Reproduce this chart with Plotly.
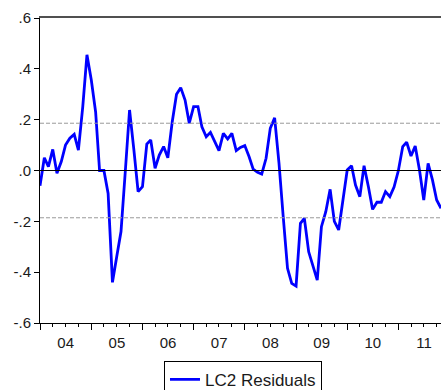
import pandas as pd
import plotly.graph_objects as go

# Monthly residuals of the LC2 equation, 2004M01 - 2011M11
months = pd.date_range("2004-01-01", periods=95, freq="MS")
residuals = [
    -0.060, 0.050, 0.015, 0.083, -0.011, 0.035, 0.100, 0.127, 0.142, 0.080,
    0.250, 0.455, 0.356, 0.230, 0.000, 0.000, -0.090, -0.440, -0.340, -0.240,
    0.000, 0.238, 0.080, -0.083, -0.064, 0.104, 0.120, 0.009, 0.061, 0.094,
    0.050, 0.190, 0.300, 0.326, 0.277, 0.186, 0.251, 0.251, 0.172, 0.133,
    0.150, 0.113, 0.078, 0.146, 0.124, 0.146, 0.078, 0.091, 0.098, 0.054,
    0.005, -0.007, -0.014, 0.048, 0.166, 0.207, 0.030, -0.180, -0.385, -0.444,
    -0.455, -0.208, -0.188, -0.320, -0.375, -0.431, -0.221, -0.162, -0.074, -0.200,
    -0.234, -0.120, 0.002, 0.019, -0.057, -0.103, 0.019, -0.064, -0.153, -0.125,
    -0.125, -0.083, -0.103, -0.065, 0.000, 0.094, 0.111, 0.057, 0.096, 0.000,
    -0.116, 0.028, -0.037, -0.116, -0.149,
]
# Standard error band of the regression
se_band = 0.186
y_ticks = [0.6, 0.4, 0.2, 0.0, -0.2, -0.4, -0.6]
y_tick_text = [".6", ".4", ".2", ".0", "-.2", "-.4", "-.6"]

FONT = "Arial, 'Liberation Sans', sans-serif"

fig = go.Figure()
fig.add_trace(go.Scatter(
    x=months, y=residuals, mode="lines", name="LC2 Residuals",
    line=dict(color="#0000FF", width=2.8),
))
# Empty trace so the top frame axis gets drawn
fig.add_trace(go.Scatter(
    x=[None], y=[None], xaxis="x2", yaxis="y", mode="lines",
    showlegend=False, hoverinfo="skip",
))

# Zero line and +/- standard error band
fig.add_hline(y=0, line=dict(color="black", width=1))
for level in (se_band, -se_band):
    fig.add_hline(y=level, line=dict(color="#999999", width=1, dash="4px,2px"))

fig.update_layout(
    width=441, height=390,
    margin=dict(l=40, r=0, t=18, b=67, autoexpand=False),
    paper_bgcolor="white", plot_bgcolor="white",
    font=dict(family=FONT, size=15, color="#1a1a1a"),
    showlegend=True,
    legend=dict(
        xref="container", yref="container",
        x=0.551, xanchor="center", y=0.075, yanchor="top",
        bordercolor="black", borderwidth=1,
        font=dict(size=17, color="#1a1a1a"),
    ),
    xaxis=dict(
        range=[months[0], months[-1]],
        type="date",
        tick0="2004-01-01", dtick="M12",
        tickformat="%y", ticklabelmode="period",
        ticks="outside", ticklen=6, tickcolor="black", tickwidth=1,
        minor=dict(dtick="M3", tick0="2004-01-01", ticks="outside",
                   ticklen=3, tickcolor="black", showgrid=False),
        showline=True, linecolor="black", linewidth=1,
        showgrid=False, zeroline=False,
        tickfont=dict(size=15),
    ),
    # Frame line along the top of the plot area
    xaxis2=dict(
        overlaying="x", anchor="y", side="top", range=[0, 1],
        showline=True, linecolor="#505050", linewidth=2,
        ticks="", showticklabels=False, showgrid=False, zeroline=False,
    ),
    yaxis=dict(
        range=[-0.6, 0.6],
        tickvals=y_ticks, ticktext=y_tick_text,
        ticks="outside", ticklen=5, tickcolor="black", tickwidth=1,
        showline=True, linecolor="black", linewidth=1,
        showgrid=False, zeroline=False,
        tickfont=dict(size=15),
    ),
)

fig.write_html("out.html")
